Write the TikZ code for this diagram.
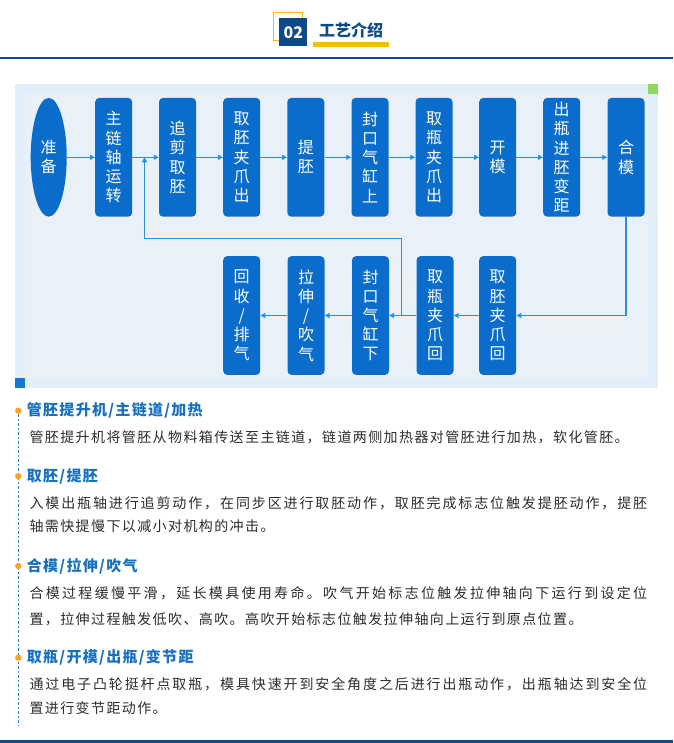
\documentclass[tikz,border=0pt]{standalone}
\usepackage{fontspec}
\setmainfont{Noto Sans CJK SC}
\usetikzlibrary{arrows.meta,shapes.geometric}
\definecolor{hdrblue}{RGB}{13,74,138}
\definecolor{hdryellow}{RGB}{248,190,0}
\definecolor{boxblue}{RGB}{10,109,203}
\definecolor{lineblue}{RGB}{42,143,224}
\definecolor{bgouter}{RGB}{226,238,249}
\definecolor{bginner}{RGB}{234,240,248}
\definecolor{cornergreen}{RGB}{142,216,94}
\definecolor{cornerblue}{RGB}{20,121,209}
\definecolor{headblue}{RGB}{24,112,192}
\definecolor{bodygray}{RGB}{45,45,45}
\definecolor{dotorange}{RGB}{246,166,35}
\definecolor{dashblue}{RGB}{43,123,201}
\ExplSyntaxOn
\NewDocumentCommand\spreadline{m m}{\hbox to #1{\tl_map_inline:nn{#2}{##1\hfil}\unskip}}
\NewDocumentCommand\spaced{m m}{\tl_map_inline:nn{#2}{##1\kern#1}\unkern}
\ExplSyntaxOff
\newcommand\boxfont{\fontsize{16}{19.2}\selectfont}
\tikzset{
  stepbox/.style={fill=boxblue, rounded corners=4pt, minimum width=37pt, minimum height=118.7pt, inner sep=0pt, text=white, font=\boxfont, align=center},
  startell/.style={ellipse, fill=boxblue, minimum width=36pt, minimum height=118.7pt, inner sep=0pt, text=white, font=\boxfont, align=center},
  conn/.style={draw=lineblue, line width=1.4pt, -{Triangle[length=5pt,width=5pt]}},
  headtxt/.style={anchor=west, inner sep=0pt, text=headblue, font=\fontsize{15}{18}\selectfont\bfseries},
  bodytxt/.style={anchor=west, inner sep=0pt, text=bodygray, font=\fontsize{14}{17}\selectfont},
  dot/.style={circle, fill=dotorange, inner sep=0pt, minimum size=6.4pt},
}
\begin{document}
\begin{tikzpicture}[x=1pt,y=-1pt]
\useasboundingbox (0,0) rectangle (673,743);
\fill[white] (0,0) rectangle (673,743);
% header
\draw[hdryellow, line width=1pt] (273.8,12.8) rectangle (302.2,41);
\node[fill=hdrblue, minimum width=28pt, minimum height=27.7pt, inner sep=0pt, text=white, font=\fontsize{16}{18}\selectfont\bfseries] (num) at (293.3,32.2) {02};
\fill[hdryellow] (313,42) rectangle (389,46.7);
\node[inner sep=0pt, text=hdrblue, font=\fontsize{16}{19}\selectfont\bfseries] (title) at (351.2,30.7) {工艺介绍};
\fill[hdrblue] (0,56.8) rectangle (673,59);
\fill[hdrblue] (0,740.2) rectangle (673,743);
% panel
\fill[bgouter] (15,84) rectangle (658,388);
\fill[bginner] (25,94) rectangle (648,378);
\fill[cornergreen] (648,84) rectangle (658,94);
\fill[cornerblue] (15,378) rectangle (25,388);
% top row
\node[startell] (zb) at (48.7,157.3) {准\\备};
\node[stepbox] (zl) at (113.7,157.3) {主\\链\\轴\\运\\转};
\node[stepbox] (zj) at (177.5,157.3) {追\\剪\\取\\胚};
\node[stepbox] (qpc) at (241.7,157.3) {取\\胚\\夹\\爪\\出};
\node[stepbox] (tp) at (305.8,157.3) {提\\胚};
\node[stepbox] (fks) at (370,157.3) {封\\口\\气\\缸\\上};
\node[stepbox] (qbc) at (434,157.3) {取\\瓶\\夹\\爪\\出};
\node[stepbox] (km) at (497.7,157.3) {开\\模};
\node[stepbox] (cp) at (561.7,157.3) {出\\瓶\\进\\胚\\变\\距};
\node[stepbox] (hm) at (626,157.3) {合\\模};
% bottom row
\node[stepbox] (hs) at (241.7,315.5) {回\\收\\/\\排\\气};
\node[stepbox] (ls) at (306,315.5) {拉\\伸\\/\\吹\\气};
\node[stepbox] (fkx) at (370.5,315.5) {封\\口\\气\\缸\\下};
\node[stepbox] (qbh) at (435,315.5) {取\\瓶\\夹\\爪\\回};
\node[stepbox] (qph) at (497.7,315.5) {取\\胚\\夹\\爪\\回};
% connectors
\draw[conn] (zb) -- (zl);
\draw[conn] (zl) -- (zj);
\draw[conn] (zj) -- (qpc);
\draw[conn] (qpc) -- (tp);
\draw[conn] (tp) -- (fks);
\draw[conn] (fks) -- (qbc);
\draw[conn] (qbc) -- (km);
\draw[conn] (km) -- (cp);
\draw[conn] (cp) -- (hm);
\draw[conn] (hm.south) |- (qph.east);
\draw[conn] (qph) -- (qbh);
\draw[conn] (qbh) -- (fkx);
\draw[conn] (fkx) -- (ls);
\draw[conn] (ls) -- (hs);
\coordinate (fb1) at (401.7,315.5);
\coordinate (fb2) at (401.7,238.3);
\coordinate (fb3) at (144.5,157.3);
\draw[conn] (fb1) -- (fb2) -| (fb3);
% text section
\draw[dashblue, line width=1pt, dash pattern=on 2.5pt off 2pt] (18.3,414) -- (18.3,725);
\node[dot] (d1) at (18.3,410.7) {};
\node[dot] (d2) at (18.3,476.3) {};
\node[dot] (d3) at (18.3,566) {};
\node[dot] (d4) at (18.3,657.7) {};
\node[headtxt] (h1) at (26.7,410.7) {\spaced{1.3pt}{管胚提升机/主链道/加热}};
\node[bodytxt] (b1) at (29.3,437.3) {\spaced{1.4pt}{管胚提升机将管胚从物料箱传送至主链道，链道两侧加热器对管胚进行加热，软化管胚。}};
\node[headtxt] (h2) at (26.7,476.3) {\spaced{1.3pt}{取胚/提胚}};
\node[bodytxt] (b2a) at (29.3,503.3) {\spreadline{617.7pt}{入模出瓶轴进行追剪动作，在同步区进行取胚动作，取胚完成标志位触发提胚动作，提胚}};
\node[bodytxt] (b2b) at (29.3,526.5) {\spaced{1.4pt}{轴需快提慢下以减小对机构的冲击。}};
\node[headtxt] (h3) at (26.7,566) {\spaced{1.3pt}{合模/拉伸/吹气}};
\node[bodytxt] (b3a) at (29.3,593.5) {\spreadline{617.7pt}{合模过程缓慢平滑，延长模具使用寿命。吹气开始标志位触发拉伸轴向下运行到设定位}};
\node[bodytxt] (b3b) at (29.3,619) {\spaced{1.4pt}{置，拉伸过程触发低吹、高吹。高吹开始标志位触发拉伸轴向上运行到原点位置。}};
\node[headtxt] (h4) at (26.7,657.7) {\spaced{1.3pt}{取瓶/开模/出瓶/变节距}};
\node[bodytxt] (b4a) at (29.3,684) {\spreadline{617.7pt}{通过电子凸轮挺杆点取瓶，模具快速开到安全角度之后进行出瓶动作，出瓶轴达到安全位}};
\node[bodytxt] (b4b) at (29.3,707.7) {\spaced{1.4pt}{置进行变节距动作。}};
\end{tikzpicture}
\end{document}
